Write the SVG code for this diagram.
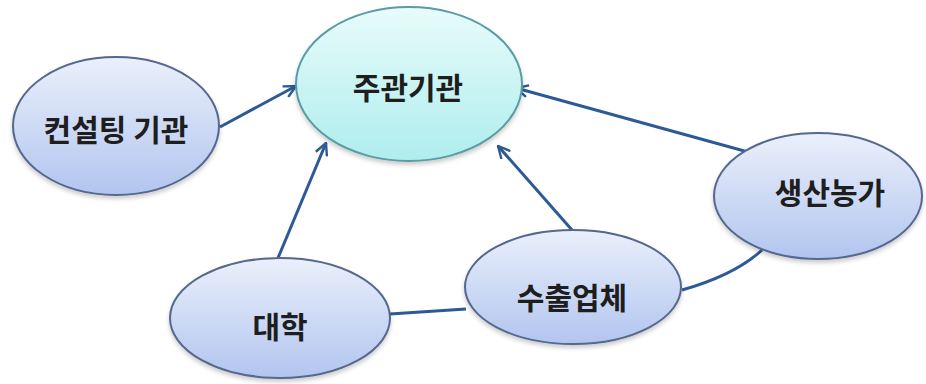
<svg xmlns="http://www.w3.org/2000/svg" width="926" height="384" viewBox="0 0 926 384">
<style>
.lbl{font-family:"Noto Sans CJK KR","Noto Sans",sans-serif;font-size:30px;font-weight:bold;fill:#1e1e1e;text-anchor:middle}
.conn{fill:none;stroke:#2d5a96;stroke-width:3}
.nodeB{fill:url(#gB);stroke:#55678f;stroke-width:2;filter:url(#sh)}
.nodeC{fill:url(#gC);stroke:#5a9ca4;stroke-width:2;filter:url(#sh)}
</style>
<defs>
<linearGradient id="gB" x1="0" y1="0" x2="0" y2="1">
<stop offset="0" stop-color="#eaf0fb"/>
<stop offset="1" stop-color="#b2c5ef"/>
</linearGradient>
<linearGradient id="gC" x1="0" y1="0" x2="0" y2="1">
<stop offset="0" stop-color="#e8fbfb"/>
<stop offset="1" stop-color="#afeded"/>
</linearGradient>
<filter id="sh" x="-10%" y="-10%" width="120%" height="130%">
<feDropShadow dx="0" dy="3" stdDeviation="2" flood-color="#000" flood-opacity="0.2"/>
</filter>
<marker id="arr" viewBox="0 0 14 14" refX="13" refY="7" markerWidth="14" markerHeight="14" markerUnits="userSpaceOnUse" orient="auto">
<path d="M1,1 L13,7 L1,13" fill="none" stroke="#2d5a96" stroke-width="2.4"/>
</marker>
</defs>
<rect width="926" height="384" fill="#ffffff"/>
<g id="connectors">
<path class="conn" d="M220,127 L296,86" marker-end="url(#arr)"/>
<path class="conn" d="M278,258 L326,143" marker-end="url(#arr)"/>
<path class="conn" d="M572,230 L498,146" marker-end="url(#arr)"/>
<path class="conn" d="M748,152 L516,88" marker-end="url(#arr)"/>
<path class="conn" d="M390,314 L466,309"/>
<path class="conn" d="M682,290 Q735,275 762,250"/>
</g>
<g id="node-main">
<ellipse class="nodeC" cx="409" cy="84" rx="113" ry="77"/>
<text class="lbl" x="408" y="99">주관기관</text>
</g>
<g id="node-consulting">
<ellipse class="nodeB" cx="116" cy="126" rx="103" ry="69"/>
<text class="lbl" x="116" y="141">컨설팅 기관</text>
</g>
<g id="node-farm">
<ellipse class="nodeB" cx="818" cy="196" rx="104" ry="63"/>
<text class="lbl" x="830" y="204">생산농가</text>
</g>
<g id="node-univ">
<ellipse class="nodeB" cx="280" cy="318" rx="110" ry="60"/>
<text class="lbl" x="280" y="338">대학</text>
</g>
<g id="node-exporter">
<ellipse class="nodeB" cx="573" cy="287" rx="108" ry="57"/>
<text class="lbl" x="572" y="309">수출업체</text>
</g>
</svg>
